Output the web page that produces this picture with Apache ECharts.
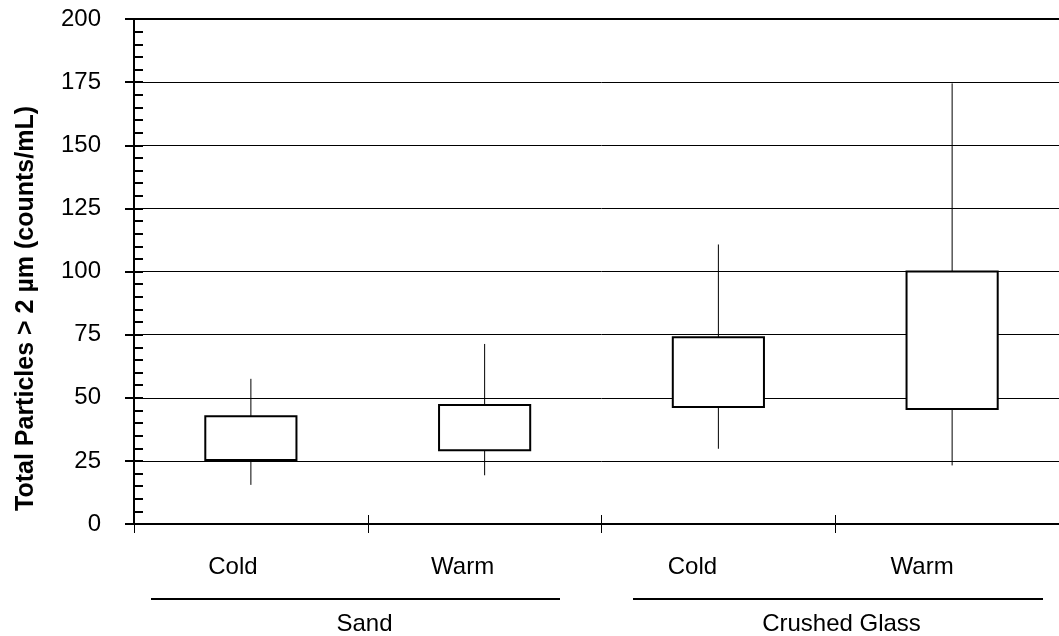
<!DOCTYPE html>
<html>
<head>
<meta charset="utf-8">
<script src="https://cdn.jsdelivr.net/npm/echarts@6/dist/echarts.min.js"></script>
<style>
html,body{margin:0;padding:0;background:#fff;overflow:hidden;width:1059px;height:636px;}
#chart{width:1090px;height:636px;}
</style>
</head>
<body>
<div id="chart"></div>
<script>
// ---- data ----
const categories = ['Cold', 'Warm', 'Cold', 'Warm'];
const groups = ['Sand', 'Crushed Glass'];
const whiskerLow = [15.5, 19.3, 29.8, 23.2];
const boxLow = [25.3, 29.2, 46.3, 45.5];
const boxHigh = [42.7, 47.1, 74.0, 100.0];
const whiskerHigh = [57.5, 71.3, 110.7, 174.5];
const yTicks = [0, 25, 50, 75, 100, 125, 150, 175, 200];
const yTitle = 'Total Particles > 2 \u00b5m (counts/mL)';

const FONT = '"Liberation Sans", Arial, sans-serif';
const boxData = categories.map((c, i) => [i, whiskerLow[i], boxLow[i], boxHigh[i], whiskerHigh[i]]);

const chart = echarts.init(document.getElementById('chart'), null, {renderer: 'canvas'});

function renderBox(params, api) {
  const x = api.value(0);
  const pLo = api.coord([x, api.value(1)]);
  const pQ1 = api.coord([x, api.value(2)]);
  const pQ3 = api.coord([x, api.value(3)]);
  const pHi = api.coord([x, api.value(4)]);
  const w = api.size([1, 0])[0] * 0.39;
  return {
    type: 'group',
    children: [
      {type: 'line', shape: {x1: pLo[0], y1: pLo[1], x2: pQ1[0], y2: pQ1[1]}, style: {stroke: '#000', lineWidth: 1}},
      {type: 'line', shape: {x1: pQ3[0], y1: pQ3[1], x2: pHi[0], y2: pHi[1]}, style: {stroke: '#000', lineWidth: 1}},
      {type: 'rect', shape: {x: pQ3[0] - w / 2, y: pQ3[1], width: w, height: pQ1[1] - pQ3[1]},
       style: {fill: '#fff', stroke: '#000', lineWidth: 2}}
    ]
  };
}

const option = {
  backgroundColor: '#fff',
  animation: false,
  textStyle: {fontFamily: FONT, color: '#000'},
  grid: [
    {left: 134, width: 935, top: 19, bottom: 112, show: true, borderColor: '#000', borderWidth: 2, backgroundColor: 'transparent'},
    {left: 118, width: 919, top: 540, bottom: 85},
    {left: 126, width: 954, top: 596, bottom: 29}
  ],
  xAxis: [
    {type: 'category', gridIndex: 0, data: categories, position: 'bottom', boundaryGap: true,
     axisLine: {show: true, lineStyle: {color: '#000', width: 2}},
     axisTick: {show: true, inside: false, length: 9, lineStyle: {color: '#000', width: 1}},
     axisLabel: {show: false}, splitLine: {show: false}},
    {type: 'category', gridIndex: 0, data: categories, position: 'bottom', offset: 0, boundaryGap: true,
     axisLine: {show: false},
     axisTick: {show: true, inside: true, length: 9, lineStyle: {color: '#000', width: 1}},
     axisLabel: {show: false}, splitLine: {show: false}},
    {type: 'category', gridIndex: 1, data: categories, position: 'bottom',
     axisLine: {show: false}, axisTick: {show: false},
     axisLabel: {show: true, fontSize: 24, margin: 4, color: '#000', fontFamily: FONT}},
    {type: 'category', gridIndex: 2, data: groups, position: 'bottom',
     axisLine: {show: false}, axisTick: {show: false},
     axisLabel: {show: true, fontSize: 24, margin: 6, color: '#000', fontFamily: FONT}}
  ],
  yAxis: [
    {type: 'value', gridIndex: 0, min: 0, max: 200, interval: 25, position: 'left',
     name: yTitle, nameLocation: 'middle', nameGap: 95,
     nameTextStyle: {fontSize: 25, fontWeight: 'bold', color: '#000', fontFamily: FONT, padding: [0, 74, 0, 0]},
     axisLine: {show: true, lineStyle: {color: '#000', width: 2}},
     axisTick: {show: true, inside: false, length: 9, lineStyle: {color: '#000', width: 2}},
     axisLabel: {show: true, fontSize: 24, margin: 33, color: '#000', fontFamily: FONT,
       formatter: v => (yTicks.indexOf(v) >= 0 ? String(v) : '')},
     splitLine: {show: true, lineStyle: {color: '#000', width: 1}}},
    {type: 'value', gridIndex: 0, min: 0, max: 200, interval: 25, position: 'left', offset: 0,
     axisLine: {show: false},
     axisTick: {show: true, inside: true, length: 9, lineStyle: {color: '#000', width: 2}},
     minorTick: {show: true, splitNumber: 5, length: 9, lineStyle: {color: '#000', width: 2}},
     axisLabel: {show: false}, splitLine: {show: false}},
    {type: 'value', gridIndex: 1, show: false},
    {type: 'value', gridIndex: 2, show: false}
  ],
  series: [
    {type: 'custom', xAxisIndex: 0, yAxisIndex: 0, data: boxData,
     encode: {x: 0, y: [1, 2, 3, 4]}, renderItem: renderBox, z: 5, clip: false}
  ],
  graphic: [
    {type: 'line', shape: {x1: 151, y1: 599, x2: 560, y2: 599}, style: {stroke: '#000', lineWidth: 2}},
    {type: 'line', shape: {x1: 633, y1: 599, x2: 1043, y2: 599}, style: {stroke: '#000', lineWidth: 2}}
  ]
};
chart.setOption(option);
</script>
</body>
</html>
